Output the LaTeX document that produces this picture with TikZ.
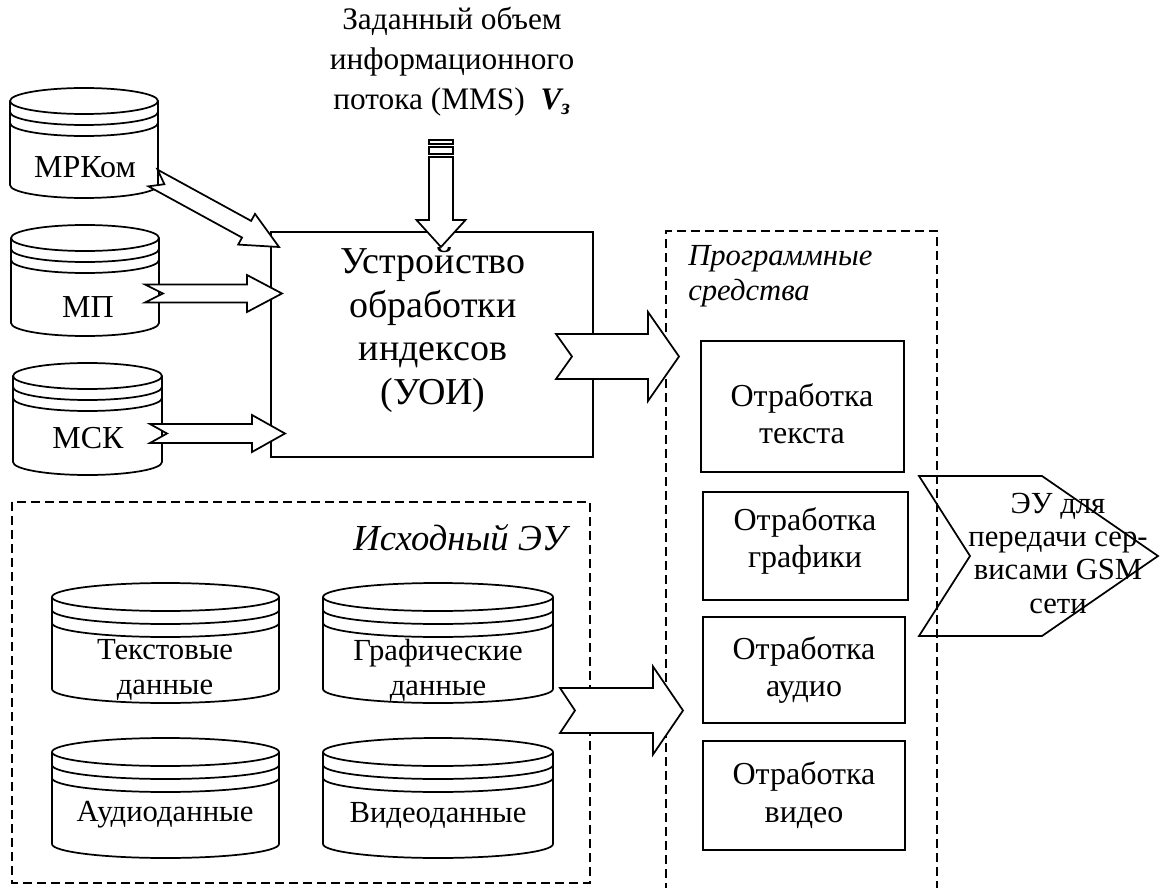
\documentclass[tikz,border=0pt]{standalone}
\usepackage{fontspec}
\setmainfont{Liberation Serif}
\newcommand\dbcyl[7]{% L R top bottom ry bandgap name
  \pgfmathsetmacro\cylcx{(#1+#2)/2}%
  \pgfmathsetmacro\cylrx{(#2-#1)/2}%
  \pgfmathsetmacro\cyltc{#3+#5}%
  \pgfmathsetmacro\cylbc{#4-#5}%
  \pgfmathsetmacro\cylba{#3+#5+#6}%
  \pgfmathsetmacro\cylbb{#3+#5+2*#6}%
  \draw[cyl] (#1,\cyltc) -- (#1,\cylbc) arc[start angle=180,end angle=0,x radius=\cylrx,y radius=#5] -- (#2,\cyltc);
  \draw[cyl] (\cylcx,\cyltc) ellipse[x radius=\cylrx,y radius=#5];
  \draw[cyl] (#1,\cylba) arc[start angle=180,end angle=0,x radius=\cylrx,y radius=#5];
  \draw[cyl] (#1,\cylbb) arc[start angle=180,end angle=0,x radius=\cylrx,y radius=#5];
  \coordinate (#7) at (\cylcx,{(#3+#4)/2});
}
\newcommand\blockarrow[8]{% tail x, tail y, angle (down positive), length, shaft half, head half, head length, notch
  \begin{scope}[shift={(#1,#2)},rotate=-#3]
    \draw[barrow] (0,-#5) -- ({#4-#7},-#5) -- ({#4-#7},-#6) -- (#4,0) -- ({#4-#7},#6) -- ({#4-#7},#5) -- (0,#5) -- (#8,0) -- cycle;
  \end{scope}
}
\tikzset{
  cyl/.style={line width=1.3pt},
  barrow/.style={draw, fill=white, line width=1.3pt, line join=miter},
  dbox/.style={draw, line width=1.4pt, dash pattern=on 6.5pt off 4pt},
  sbox/.style={draw, line width=1.3pt},
  txt/.style={font=\fontsize{24}{28}\selectfont, align=center, inner sep=0pt},
}
\begin{document}
\begin{tikzpicture}[x=0.75pt,y=-0.75pt]
\useasboundingbox (0,0) rectangle (1160,888);

% dashed frames
\draw[dbox] (12,502) rectangle (590,883);
\draw[dbox] (666,892) -- (666,231) -- (937,231) -- (937,892);

% main processing box
\draw[sbox] (271,232) rectangle (593,457);

% small cylinders
\dbcyl{10}{158}{88}{198}{13}{11}{cMRK}
\dbcyl{11}{159}{225}{336}{13}{11}{cMP}
\dbcyl{13}{162}{363}{475}{13}{11}{cMSK}

% big cylinders
\dbcyl{52}{279}{583}{703}{14}{13}{cTxt}
\dbcyl{323}{553}{583}{703}{14}{13}{cGr}
\dbcyl{52}{279}{738}{858}{14}{13}{cAu}
\dbcyl{323}{553}{738}{858}{14}{13}{cVi}

% processing boxes
\draw[sbox] (701,341) rectangle (904,472);
\draw[sbox] (703,492) rectangle (908,600);
\draw[sbox] (703,617) rectangle (905,723);
\draw[sbox] (703,741) rectangle (905,850);

% output shape
\draw[sbox, line join=miter] (919,476) -- (1042,476) -- (1158,556) -- (1042,636) -- (919,636) -- (970,556) -- cycle;

% block arrows
\blockarrow{153}{178}{28.7}{143.7}{9.5}{17.5}{37}{13}
\blockarrow{145}{293.5}{0}{137}{9}{18.5}{35}{18}
\blockarrow{150}{433.5}{0}{135}{9.5}{18.5}{33}{17}
\blockarrow{441}{157}{90}{90}{12}{24.5}{27}{0}
\draw[barrow] (429,140) rectangle (453,144);
\draw[barrow] (429,147) rectangle (453,154);
\blockarrow{556}{356.5}{0}{123}{22.5}{44.5}{31}{16}
\blockarrow{560}{710.5}{0}{123}{22.5}{44}{30}{15}

% texts
\node[txt, font=\fontsize{23.5}{30}\selectfont] (vol) at (452,62) {Заданный объем\\информационного\\потока (MMS)\ \ \textbf{\textit{V\textsubscript{з}}}};
\node[txt, font=\fontsize{28.5}{32.6}\selectfont] (uoi) at (433,330) {Устройство\\обработки\\индексов\\(УОИ)};
\node[txt] (tMRK) at (85,167) {МРКом};
\node[txt] (tMP) at (88,307) {МП};
\node[txt] (tMSK) at (88,438) {МСК};
\node[txt, font=\fontsize{27.5}{33}\selectfont\itshape] (src) at (460,538) {Исходный ЭУ};
\node[txt, font=\fontsize{23}{26}\selectfont] (tTxt) at (165,670) {Текстовые\\данные};
\node[txt, font=\fontsize{23}{26}\selectfont] (tGr) at (438,670) {Графические\\данные};
\node[txt, font=\fontsize{23}{26}\selectfont] (tAu) at (165,815) {Аудиоданные};
\node[txt, font=\fontsize{23}{26}\selectfont] (tVi) at (438,815) {Видеоданные};
\node[txt, align=left, anchor=west, font=\fontsize{23}{26}\selectfont\itshape] (prog) at (688,276) {Программные\\средства};
\node[txt, font=\fontsize{24}{28}\selectfont] (p1) at (802,414) {Отработка\\текста};
\node[txt, font=\fontsize{24}{28}\selectfont] (p2) at (805,541) {Отработка\\графики};
\node[txt, font=\fontsize{24}{28}\selectfont] (p3) at (804,670) {Отработка\\аудио};
\node[txt, font=\fontsize{24}{28}\selectfont] (p4) at (804,795) {Отработка\\видео};
\node[txt, font=\fontsize{23}{25}\selectfont] (out) at (1058,553) {ЭУ для\\передачи сер-\\висами GSM\\сети};
\end{tikzpicture}
\end{document}
